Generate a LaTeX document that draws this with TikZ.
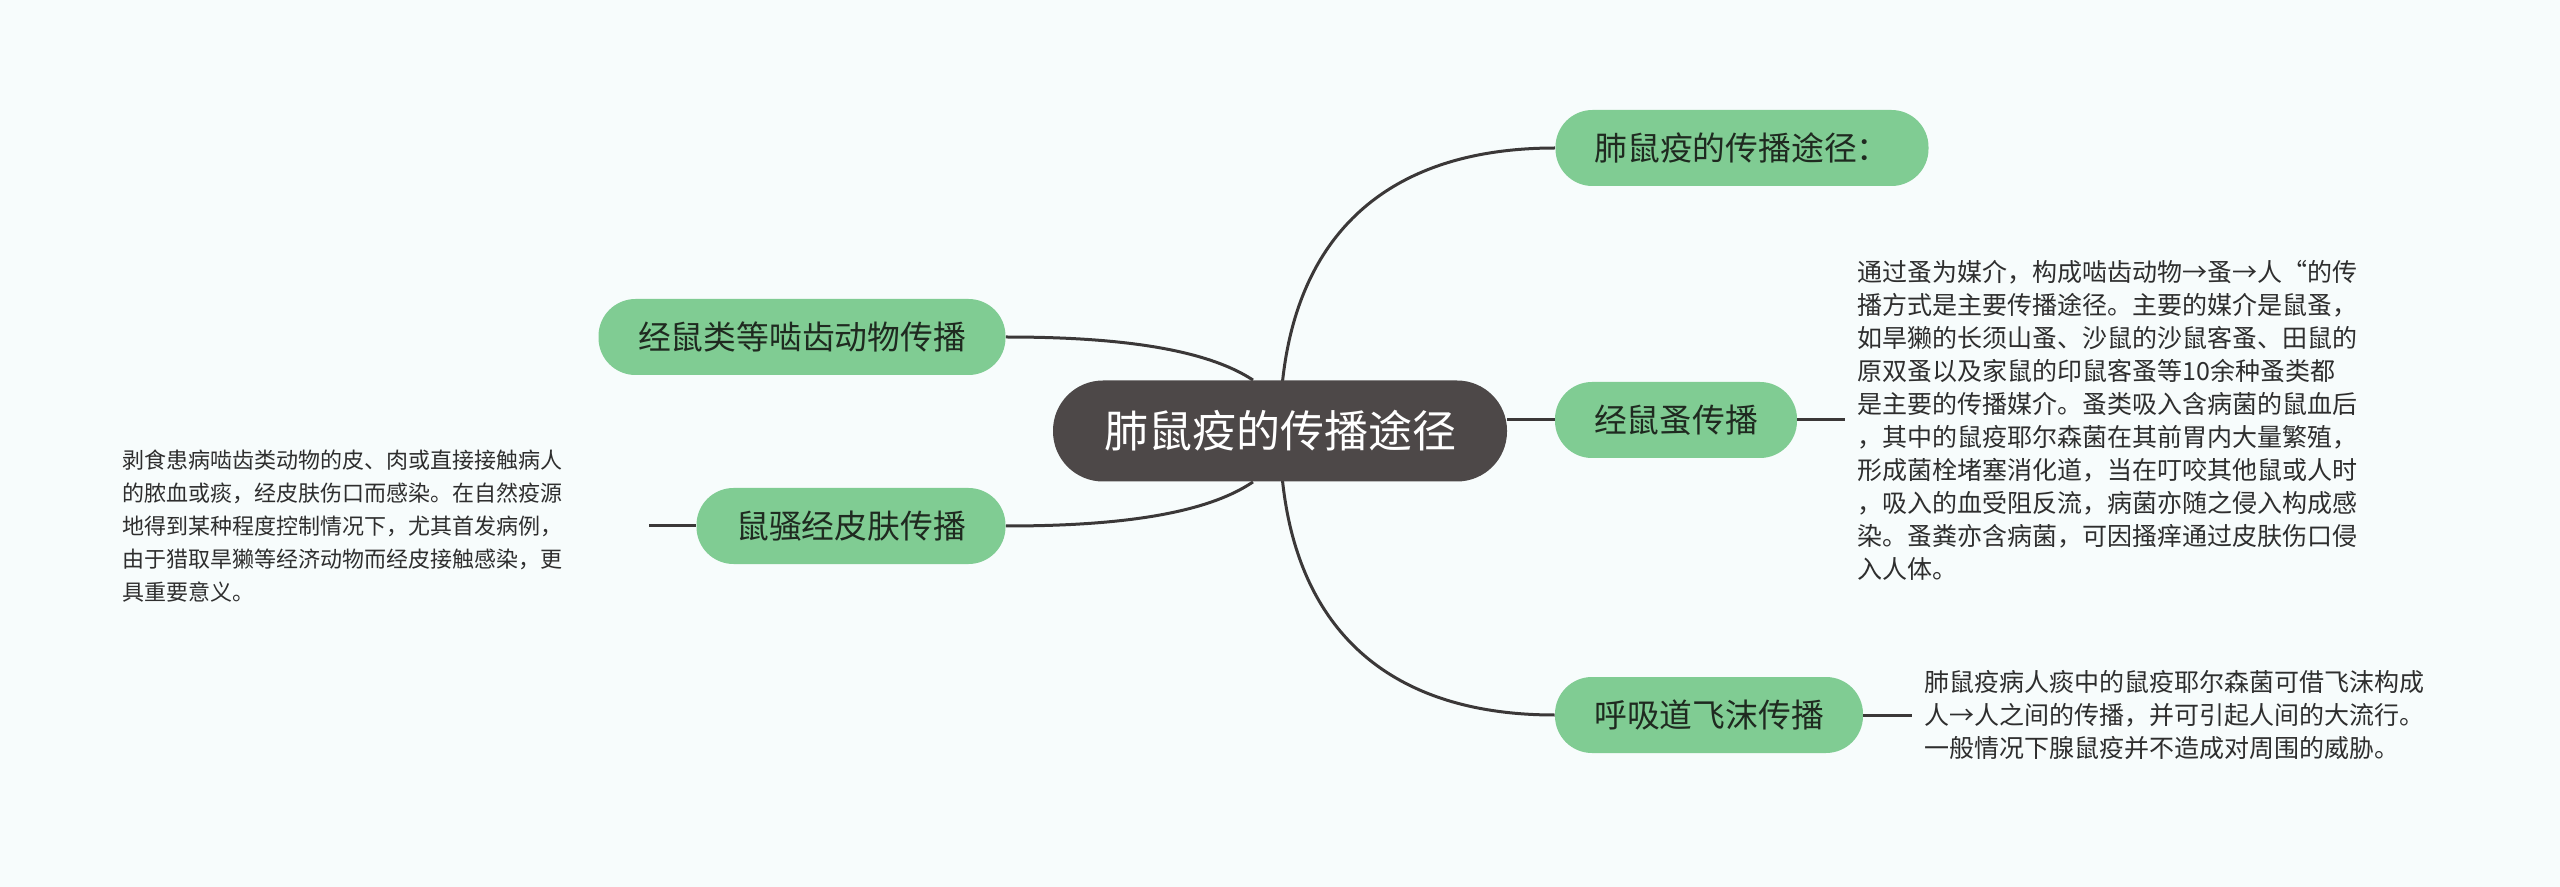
\documentclass[tikz,border=0pt]{standalone}
\usepackage{fontspec}
\setmainfont{Noto Sans CJK SC}
\usetikzlibrary{backgrounds}
\definecolor{bgc}{HTML}{F7FCFC}
\definecolor{greenc}{HTML}{80CC93}
\definecolor{rootc}{HTML}{4D4848}
\definecolor{linec}{HTML}{3B3838}
\definecolor{gtext}{HTML}{1F2A20}
\definecolor{dtext}{HTML}{2E2E2E}
\tikzset{
  rootbox/.style={fill=rootc, text=white, rounded corners=25pt, minimum width=227pt, minimum height=50.5pt, inner sep=0pt, font=\fontsize{22}{26}\selectfont},
  topic/.style={fill=greenc, text=gtext, rounded corners=18.5pt, minimum height=38pt, inner sep=0pt, font=\fontsize{16.4}{20}\selectfont},
  detail/.style={text=dtext, align=left, inner sep=0pt, font=\fontsize{12.5}{16.5}\selectfont},
  conn/.style={draw=linec, line width=1.5pt}
}
\begin{document}
\begin{tikzpicture}[x=0.5pt,y=-0.5pt]
\useasboundingbox (0,0) rectangle (2560,887);

\node[rootbox] (root) at (1280,431) {肺鼠疫的传播途径};
\node[topic, minimum width=186.5pt] (n1) at (1742,148) {肺鼠疫的传播途径：};
\node[topic, minimum width=121pt] (n2) at (1676,420) {经鼠蚤传播};
\node[topic, minimum width=154pt] (n3) at (1709,715) {呼吸道飞沫传播};
\node[topic, minimum width=203.5pt] (n4) at (802,337) {经鼠类等啮齿动物传播};
\node[topic, minimum width=154.5pt] (n5) at (851,526) {鼠骚经皮肤传播};

\node[detail, anchor=west] (t2) at (1857,420) {通过蚤为媒介，构成啮齿动物→蚤→人“的传\\播方式是主要传播途径。主要的媒介是鼠蚤，\\如旱獭的长须山蚤、沙鼠的沙鼠客蚤、田鼠的\\原双蚤以及家鼠的印鼠客蚤等10余种蚤类都\\是主要的传播媒介。蚤类吸入含病菌的鼠血后\\，其中的鼠疫耶尔森菌在其前胃内大量繁殖，\\形成菌栓堵塞消化道，当在叮咬其他鼠或人时\\，吸入的血受阻反流，病菌亦随之侵入构成感\\染。蚤粪亦含病菌，可因搔痒通过皮肤伤口侵\\入人体。};
\node[detail, anchor=west] (t3) at (1924,715) {肺鼠疫病人痰中的鼠疫耶尔森菌可借飞沫构成\\人→人之间的传播，并可引起人间的大流行。\\一般情况下腺鼠疫并不造成对周围的威胁。};
\node[detail, anchor=west, font=\fontsize{11}{16.5}\selectfont] (t5) at (122,526) {剥食患病啮齿类动物的皮、肉或直接接触病人\\的脓血或痰，经皮肤伤口而感染。在自然疫源\\地得到某种程度控制情况下，尤其首发病例，\\由于猎取旱獭等经济动物而经皮接触感染，更\\具重要意义。};

\coordinate (c2) at (1845,420);
\coordinate (c3) at (1912,715);
\coordinate (c5) at (649,526);

\begin{scope}[on background layer]
\fill[bgc] (0,0) rectangle (2560,887);
\draw[conn] (root.center) .. controls (1280,247) and (1376,148) .. (n1.west);
\draw[conn] (root.center) .. controls (1280,616) and (1376,715) .. (n3.west);
\draw[conn] ([xshift=-13.5pt]root.north) .. controls (1200,345) and (1100,337) .. (n4.east);
\draw[conn] ([xshift=-13.5pt]root.south) .. controls (1200,518) and (1100,526) .. (n5.east);
\end{scope}
\draw[conn] (n2.west -| root.east) -- (n2.west);
\draw[conn] (n2.east) -- (c2);
\draw[conn] (n3.east) -- (c3);
\draw[conn] (c5) -- (n5.west);
\end{tikzpicture}
\end{document}
